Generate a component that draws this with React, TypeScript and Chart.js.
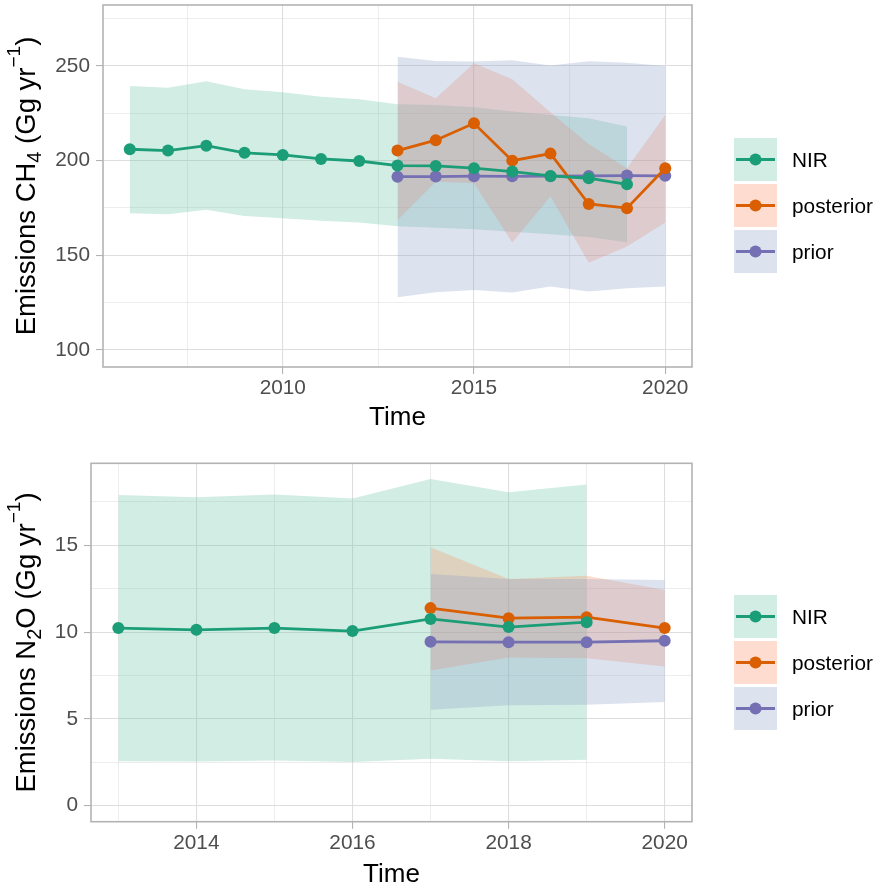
import React, { useEffect, useRef } from 'react';
import { Chart, registerables } from 'chart.js';

Chart.register(...registerables);

const FONT = '"Liberation Sans", Arial, Helvetica, sans-serif';

// ---------- Series names & colours ----------
const seriesNames = ['NIR', 'posterior', 'prior'];
const lineColors = ['#1B9E77', '#D95F02', '#7570B3'];
const bandColors = ['rgba(102,194,165,0.3)', 'rgba(252,141,98,0.3)', 'rgba(141,160,203,0.3)'];
const keyColors = ['#D1EDE4', '#FEDDD0', '#DDE2EF'];

// ---------- CH4 ----------
const ch4NirYears = [2006, 2007, 2008, 2009, 2010, 2011, 2012, 2013, 2014, 2015, 2016, 2017, 2018, 2019];
const ch4NirValues = [206.0, 205.3, 207.9, 204.1, 203.0, 200.9, 199.8, 197.4, 197.2, 196.0, 194.2, 191.9, 190.7, 187.5];
const ch4NirUpper = [239.4, 238.5, 241.9, 237.7, 236.1, 233.8, 232.4, 229.8, 229.4, 228.2, 225.9, 224.1, 222.4, 218.0];
const ch4NirLower = [172.2, 171.7, 174.0, 170.8, 169.6, 168.3, 167.3, 165.4, 164.6, 163.8, 162.5, 161.1, 159.6, 156.9];
const ch4InvYears = [2013, 2014, 2015, 2016, 2017, 2018, 2019, 2020];
const ch4PostValues = [205.3, 210.8, 219.7, 200.0, 203.7, 177.1, 174.9, 196.0];
const ch4PostUpper = [241.7, 232.9, 251.4, 243.0, 225.6, 208.8, 196.0, 224.1];
const ch4PostLower = [168.7, 188.9, 188.1, 156.7, 181.0, 146.1, 154.6, 167.3];
const ch4PriorValues = [191.5, 191.6, 191.8, 191.7, 191.8, 191.9, 192.1, 192.0];
const ch4PriorUpper = [254.9, 252.6, 252.3, 253.0, 250.2, 252.5, 251.7, 250.0];
const ch4PriorLower = [127.9, 130.5, 131.7, 130.3, 133.5, 130.9, 132.6, 133.5];
const ch4XMajor = [2010, 2015, 2020];
const ch4XMinor = [2007.5, 2012.5, 2017.5];
const ch4YMajor = [100, 150, 200, 250];
const ch4YMinor = [125, 175, 225, 275];

// ---------- N2O ----------
const n2oNirYears = [2013, 2014, 2015, 2016, 2017, 2018, 2019];
const n2oNirValues = [10.23, 10.13, 10.23, 10.06, 10.76, 10.29, 10.57];
const n2oNirUpper = [17.89, 17.76, 17.93, 17.7, 18.81, 18.05, 18.5];
const n2oNirLower = [2.56, 2.55, 2.6, 2.52, 2.7, 2.56, 2.65];
const n2oInvYears = [2017, 2018, 2019, 2020];
const n2oPostValues = [11.38, 10.8, 10.86, 10.23];
const n2oPostUpper = [14.88, 13.06, 13.25, 12.43];
const n2oPostLower = [7.79, 8.54, 8.5, 8.02];
const n2oPriorValues = [9.44, 9.42, 9.42, 9.5];
const n2oPriorUpper = [13.35, 13.06, 13.06, 13.0];
const n2oPriorLower = [5.52, 5.78, 5.82, 5.98];
const n2oXMajor = [2014, 2016, 2018, 2020];
const n2oXMinor = [2013, 2015, 2017, 2019];
const n2oYMajor = [0, 5, 10, 15];
const n2oYMinor = [2.5, 7.5, 12.5, 17.5];

const W = 877;
const H = 443;

type TitlePart = { text: string; size: number; dy: number };

const ch4Title: TitlePart[] = [
  { text: 'Emissions CH', size: 27.5, dy: 0 },
  { text: '4', size: 20, dy: 6 },
  { text: ' (Gg yr', size: 27.5, dy: 0 },
  { text: '\u22121', size: 19, dy: -15 },
  { text: ')', size: 27.5, dy: 0 },
];
const n2oTitle: TitlePart[] = [
  { text: 'Emissions N', size: 27.5, dy: 0 },
  { text: '2', size: 20, dy: 6 },
  { text: 'O (Gg yr', size: 27.5, dy: 0 },
  { text: '\u22121', size: 19, dy: -15 },
  { text: ')', size: 27.5, dy: 0 },
];

const pts = (xs: number[], ys: number[]) => xs.map((x, i) => ({ x, y: ys[i] }));

function lineDs(label: string, xs: number[], ys: number[], k: number) {
  return {
    label,
    data: pts(xs, ys),
    borderColor: lineColors[k],
    backgroundColor: lineColors[k],
    borderWidth: 2.8,
    pointRadius: 6,
    pointBorderWidth: 0,
    pointBackgroundColor: lineColors[k],
    fill: false,
    tension: 0,
  };
}

function bandDs(label: string, xs: number[], up: number[], lo: number[], k: number) {
  return [
    {
      label: label + ' upper',
      data: pts(xs, up),
      borderWidth: 0,
      borderColor: 'rgba(0,0,0,0)',
      pointRadius: 0,
      backgroundColor: bandColors[k],
      fill: '+1',
      tension: 0,
    },
    {
      label: label + ' lower',
      data: pts(xs, lo),
      borderWidth: 0,
      borderColor: 'rgba(0,0,0,0)',
      pointRadius: 0,
      fill: false,
      tension: 0,
    },
  ];
}

type Cfg = {
  nir: [number[], number[], number[], number[]];
  post: [number[], number[], number[], number[]];
  prior: [number[], number[], number[], number[]];
  xMin: number; xMax: number; yMin: number; yMax: number;
  xMajor: number[]; xMinor: number[]; yMajor: number[]; yMinor: number[];
  left: number; top: number; bottom: number;
  title: TitlePart[];
  timeBaseline: number;
};

function makeChart(canvas: HTMLCanvasElement, c: Cfg) {
  const isMajorIn = (arr: number[], v: number) => arr.some((m) => Math.abs(m - v) < 1e-6);
  const gridOpts = (major: number[]) => ({
    color: '#DEDEDE',
    lineWidth: (ctx: any) => (ctx.tick && isMajorIn(major, ctx.tick.value) ? 1.1 : 0.55),
    tickColor: (ctx: any) => (ctx.tick && isMajorIn(major, ctx.tick.value) ? '#B3B3B3' : 'rgba(0,0,0,0)'),
    tickWidth: 1.1,
    tickLength: 7,
    drawTicks: true,
  });

  const decor = {
    id: 'decor',
    afterDraw(chart: any) {
      const { ctx, chartArea: a } = chart;
      ctx.save();
      ctx.strokeStyle = '#B3B3B3';
      ctx.lineWidth = 1.6;
      ctx.strokeRect(a.left, a.top, a.right - a.left, a.bottom - a.top);
      ctx.fillStyle = '#000000';
      ctx.font = `26px ${FONT}`;
      ctx.textAlign = 'center';
      ctx.textBaseline = 'alphabetic';
      ctx.fillText('Time', (a.left + a.right) / 2, c.timeBaseline);
      // rotated y title with sub/superscripts
      let total = 0;
      for (const p of c.title) {
        ctx.font = `${p.size}px ${FONT}`;
        total += ctx.measureText(p.text).width;
      }
      ctx.translate(35, (a.top + a.bottom) / 2);
      ctx.rotate(-Math.PI / 2);
      ctx.textAlign = 'left';
      let x = -total / 2;
      for (const p of c.title) {
        ctx.font = `${p.size}px ${FONT}`;
        ctx.fillText(p.text, x, p.dy);
        x += ctx.measureText(p.text).width;
      }
      ctx.restore();
    },
  };

  return new Chart(canvas, {
    type: 'line',
    data: {
      datasets: [
        lineDs('NIR', c.nir[0], c.nir[1], 0),
        lineDs('posterior', c.post[0], c.post[1], 1),
        lineDs('prior', c.prior[0], c.prior[1], 2),
        ...bandDs('prior', c.prior[0], c.prior[2], c.prior[3], 2),
        ...bandDs('posterior', c.post[0], c.post[2], c.post[3], 1),
        ...bandDs('NIR', c.nir[0], c.nir[2], c.nir[3], 0),
      ] as any,
    },
    options: {
      animation: false,
      responsive: false,
      maintainAspectRatio: false,
      events: [],
      layout: { autoPadding: false, padding: { left: 0, right: W - 692, top: c.top, bottom: 0 } },
      plugins: {
        legend: { display: false },
        tooltip: { enabled: false },
        filler: { propagate: false, drawTime: 'beforeDatasetsDraw' },
      } as any,
      scales: {
        x: {
          type: 'linear',
          min: c.xMin,
          max: c.xMax,
          border: { display: false },
          grid: gridOpts(c.xMajor) as any,
          ticks: {
            autoSkip: false,
            maxRotation: 0,
            padding: 2,
            color: '#4D4D4D',
            font: { family: FONT, size: 20.8, lineHeight: 1.2 },
            callback: (v: any) => (isMajorIn(c.xMajor, Number(v)) ? String(v) : ''),
          },
          afterBuildTicks: (s: any) => {
            s.ticks = [...c.xMinor, ...c.xMajor].sort((p, q) => p - q).map((v) => ({ value: v }));
          },
          afterFit: (s: any) => {
            s.height = H - c.bottom;
            s.paddingLeft = 0;
            s.paddingRight = 0;
            s.paddingTop = 0;
            s.paddingBottom = 0;
          },
        },
        y: {
          type: 'linear',
          min: c.yMin,
          max: c.yMax,
          border: { display: false },
          grid: gridOpts(c.yMajor) as any,
          ticks: {
            autoSkip: false,
            padding: 6,
            color: '#4D4D4D',
            font: { family: FONT, size: 20.8, lineHeight: 1.2 },
            callback: (v: any) => (isMajorIn(c.yMajor, Number(v)) ? String(v) : ''),
          },
          afterBuildTicks: (s: any) => {
            s.ticks = [...c.yMinor, ...c.yMajor].sort((p, q) => p - q).map((v) => ({ value: v }));
          },
          afterFit: (s: any) => {
            s.width = c.left;
            s.paddingLeft = 0;
            s.paddingRight = 0;
            s.paddingTop = 0;
            s.paddingBottom = 0;
          },
        },
      },
    },
    plugins: [decor],
  } as any);
}

function Panel({ cfg, top }: { cfg: Cfg; top: number }) {
  const ref = useRef<HTMLCanvasElement | null>(null);
  useEffect(() => {
    if (!ref.current) return;
    const ch = makeChart(ref.current, cfg);
    return () => ch.destroy();
  }, []);
  return (
    <canvas
      ref={ref}
      width={W}
      height={H}
      style={{ position: 'absolute', left: 0, top, width: W, height: H, display: 'block' }}
    />
  );
}

function Legend({ top }: { top: number }) {
  return (
    <>
      {seriesNames.map((name, i) => (
        <React.Fragment key={name}>
          <div
            style={{
              position: 'absolute',
              left: 734,
              top: top + i * 46,
              width: 43,
              height: 43,
              background: keyColors[i],
            }}
          >
            <svg width={43} height={43} style={{ display: 'block' }}>
              <line x1={2} x2={41} y1={21.5} y2={21.5} stroke={lineColors[i]} strokeWidth={3} />
              <circle cx={21.5} cy={21.5} r={6} fill={lineColors[i]} />
            </svg>
          </div>
          <div
            style={{
              position: 'absolute',
              left: 792,
              top: top + i * 46,
              height: 43,
              lineHeight: '43px',
              fontSize: 20.8,
              fontFamily: FONT,
              color: '#000',
              whiteSpace: 'nowrap',
            }}
          >
            {name}
          </div>
        </React.Fragment>
      ))}
    </>
  );
}

const ch4Cfg: Cfg = {
  nir: [ch4NirYears, ch4NirValues, ch4NirUpper, ch4NirLower],
  post: [ch4InvYears, ch4PostValues, ch4PostUpper, ch4PostLower],
  prior: [ch4InvYears, ch4PriorValues, ch4PriorUpper, ch4PriorLower],
  xMin: 2005.3, xMax: 2020.7, yMin: 91, yMax: 282.2,
  xMajor: ch4XMajor, xMinor: ch4XMinor, yMajor: ch4YMajor, yMinor: ch4YMinor,
  left: 103, top: 5, bottom: 367,
  title: ch4Title,
  timeBaseline: 425,
};

const n2oCfg: Cfg = {
  nir: [n2oNirYears, n2oNirValues, n2oNirUpper, n2oNirLower],
  post: [n2oInvYears, n2oPostValues, n2oPostUpper, n2oPostLower],
  prior: [n2oInvYears, n2oPriorValues, n2oPriorUpper, n2oPriorLower],
  xMin: 2012.65, xMax: 2020.35, yMin: -0.92, yMax: 19.72,
  xMajor: n2oXMajor, xMinor: n2oXMinor, yMajor: n2oYMajor, yMinor: n2oYMinor,
  left: 91, top: 20.3, bottom: 378.7,
  title: n2oTitle,
  timeBaseline: 439,
};

export default function App() {
  return (
    <div style={{ position: 'absolute', left: 0, top: 0, width: W, height: 886, background: '#fff', overflow: 'hidden' }}>
      <Panel cfg={ch4Cfg} top={0} />
      <Panel cfg={n2oCfg} top={H} />
      <Legend top={138} />
      <Legend top={595} />
    </div>
  );
}
